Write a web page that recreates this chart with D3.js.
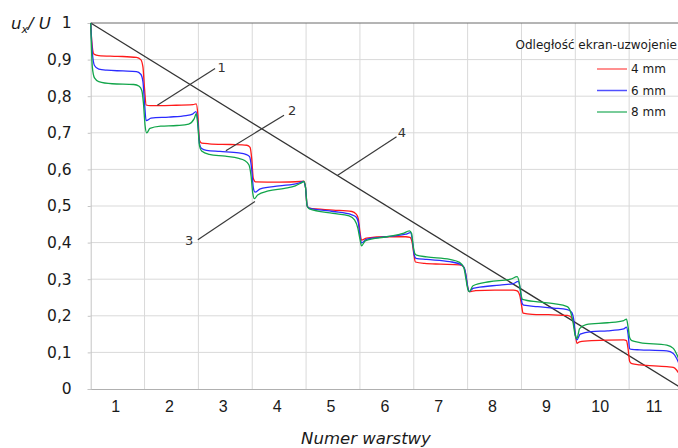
<!DOCTYPE html>
<html>
<head>
<meta charset="utf-8">
<script src="https://cdn.jsdelivr.net/npm/d3@7"></script>
<style>
  html, body { margin: 0; padding: 0; background: #fff; }
  svg { display: block; }
</style>
</head>
<body>
<svg id="chart" width="678" height="448"></svg>
<script>
// Layer numbers on the horizontal axis
const categories = ["1","2","3","4","5","6","7","8","9","10","11"];
// Vertical axis tick values and their labels (decimal comma)
const yTickValues = [0, 0.1, 0.2, 0.3, 0.4, 0.5, 0.6, 0.7, 0.8, 0.9, 1];
const yTickLabels = ["0","0,1","0,2","0,3","0,4","0,5","0,6","0,7","0,8","0,9","1"];

// Legend entries: screen-winding distance
const legendTitle = "Odległość ekran-uzwojenie";
const seriesNames = ["4 mm", "6 mm", "8 mm"];

// Voltage distribution u_x/U along the winding, position in layer units [x, u_x/U]
const series4mm = [
  [0,1.0],[0.02,0.95],[0.06,0.915],[0.15,0.911],[0.5,0.909],[0.85,0.906],[0.93,0.900],[0.97,0.88],
  [1.0,0.82],[1.03,0.776],[1.1,0.774],[1.5,0.775],[1.9,0.777],[1.96,0.779],[1.99,0.75],
  [2.02,0.68],[2.06,0.672],[2.2,0.670],[2.6,0.668],[2.9,0.666],[2.96,0.660],[2.99,0.63],
  [3.02,0.575],[3.06,0.566],[3.5,0.565],[3.9,0.567],[3.96,0.568],[3.99,0.55],
  [4.02,0.50],[4.06,0.494],[4.5,0.489],[4.85,0.485],[4.93,0.478],[4.97,0.465],
  [5.0,0.43],[5.03,0.407],[5.12,0.412],[5.5,0.416],[5.85,0.416],[5.93,0.414],[5.97,0.40],
  [6.0,0.37],[6.03,0.347],[6.2,0.343],[6.5,0.341],[6.85,0.339],[6.93,0.333],[6.97,0.31],
  [7.0,0.28],[7.03,0.266],[7.15,0.269],[7.5,0.270],[7.85,0.270],[7.92,0.268],[7.97,0.255],
  [8.0,0.23],[8.03,0.207],[8.2,0.204],[8.5,0.203],[8.85,0.201],[8.93,0.195],[8.97,0.18],
  [9.0,0.15],[9.03,0.125],[9.08,0.129],[9.3,0.132],[9.9,0.134],[9.95,0.132],[9.98,0.11],
  [10.01,0.075],[10.05,0.069],[10.2,0.066],[10.7,0.061],[10.82,0.059],[10.88,0.052],[10.95,0.035]
];
const series6mm = [
  [0,1.0],[0.03,0.92],[0.07,0.884],[0.15,0.874],[0.3,0.871],[0.6,0.869],[0.85,0.867],[0.93,0.86],[0.97,0.84],
  [1.0,0.78],[1.03,0.733],[1.12,0.740],[1.45,0.743],[1.77,0.747],[1.89,0.751],[1.955,0.758],[1.99,0.73],
  [2.02,0.67],[2.06,0.657],[2.15,0.652],[2.4,0.649],[2.75,0.645],[2.88,0.641],[2.95,0.635],[2.99,0.60],
  [3.02,0.55],[3.05,0.538],[3.15,0.547],[3.5,0.555],[3.85,0.562],[3.95,0.567],[3.99,0.55],
  [4.02,0.50],[4.06,0.494],[4.5,0.485],[4.85,0.476],[4.93,0.470],[4.97,0.455],
  [5.0,0.42],[5.03,0.399],[5.12,0.409],[5.5,0.416],[5.85,0.423],[5.94,0.427],[5.98,0.40],
  [6.01,0.365],[6.04,0.357],[6.24,0.354],[6.67,0.348],[6.89,0.339],[6.94,0.33],[6.97,0.31],
  [7.0,0.28],[7.03,0.266],[7.1,0.275],[7.17,0.277],[7.6,0.284],[7.85,0.288],[7.94,0.294],[7.98,0.27],
  [8.01,0.235],[8.04,0.229],[8.3,0.225],[8.6,0.221],[8.85,0.217],[8.93,0.210],[8.97,0.19],
  [9.0,0.15],[9.03,0.134],[9.09,0.150],[9.3,0.157],[9.6,0.159],[9.9,0.164],[9.95,0.169],[9.98,0.15],
  [10.01,0.11],[10.05,0.108],[10.2,0.107],[10.7,0.104],[10.82,0.097],[10.88,0.084],[10.95,0.06]
];
const series8mm = [
  [0,1.0],[0.03,0.88],[0.07,0.85],[0.15,0.840],[0.4,0.834],[0.8,0.832],[0.9,0.827],[0.95,0.815],[0.98,0.78],
  [1.01,0.72],[1.04,0.700],[1.1,0.712],[1.3,0.718],[1.6,0.720],[1.82,0.724],[1.92,0.738],[1.96,0.752],[1.99,0.72],
  [2.02,0.665],[2.06,0.650],[2.2,0.641],[2.5,0.636],[2.75,0.630],[2.85,0.625],[2.94,0.612],[2.98,0.58],
  [3.01,0.535],[3.04,0.520],[3.1,0.530],[3.3,0.541],[3.6,0.548],[3.8,0.555],[3.92,0.564],[3.96,0.567],[3.99,0.55],
  [4.02,0.50],[4.06,0.492],[4.5,0.480],[4.8,0.473],[4.9,0.462],[4.96,0.44],
  [5.0,0.41],[5.03,0.391],[5.1,0.405],[5.5,0.416],[5.8,0.425],[5.92,0.432],[5.96,0.425],[5.99,0.39],
  [6.02,0.37],[6.05,0.366],[6.24,0.361],[6.67,0.354],[6.85,0.346],[6.93,0.331],[6.97,0.30],
  [7.0,0.275],[7.03,0.266],[7.1,0.282],[7.4,0.293],[7.8,0.300],[7.92,0.307],[7.96,0.29],
  [7.99,0.26],[8.02,0.245],[8.3,0.238],[8.6,0.233],[8.85,0.225],[8.92,0.207],[8.96,0.18],
  [9.0,0.145],[9.03,0.138],[9.08,0.165],[9.2,0.176],[9.6,0.181],[9.9,0.187],[9.95,0.191],[9.98,0.17],
  [10.01,0.14],[10.05,0.132],[10.2,0.127],[10.7,0.120],[10.82,0.111],[10.89,0.093],[10.95,0.07]
];
// Curve 4: linear distribution from the first to the last layer
const linearDistribution = [[0, 1], [11, 0]];

// Numbered callouts: [label, line start x, v, line end x, v, label x, v]
const callouts = [
  ["1", 1.237, 0.775, 2.31, 0.876, 2.43, 0.878],
  ["2", 2.51, 0.651, 3.59, 0.748, 3.74, 0.762],
  ["3", 3.05, 0.512, 1.99, 0.408, 1.83, 0.405],
  ["4", 4.58, 0.583, 5.68, 0.689, 5.78, 0.700]
];

const colors = ["#ff1a1a", "#2b2bff", "#12a54a"];
const legendColors = ["#ff6b6b", "#5050ff", "#4cbb78"];

const svg = d3.select("#chart");
const plotLeft = 90.7, plotRight = 683, plotTop = 23, plotBottom = 389;

const x = d3.scaleLinear().domain([0, 11]).range([plotLeft, plotRight]);
const y = d3.scaleLinear().domain([0, 1]).range([plotBottom, plotTop]);
const band = d3.scaleBand().domain(categories).range([plotLeft, plotRight]);

// Grid
const grid = svg.append("g");
grid.selectAll("line.h").data(yTickValues.filter(v => v > 0 && v < 1)).join("line")
  .attr("x1", plotLeft).attr("x2", plotRight)
  .attr("y1", d => y(d)).attr("y2", d => y(d))
  .attr("stroke", "#d9d9d9").attr("stroke-width", 1);
grid.selectAll("line.v").data(d3.range(1, 11)).join("line")
  .attr("x1", d => x(d)).attr("x2", d => x(d))
  .attr("y1", plotTop).attr("y2", plotBottom)
  .attr("stroke", "#d9d9d9").attr("stroke-width", 1);
// top border at 1
grid.append("line").attr("x1", plotLeft).attr("x2", plotRight)
  .attr("y1", y(1)).attr("y2", y(1)).attr("stroke", "#6a6a6a").attr("stroke-width", 1);

// Axes
const yAxis = d3.axisLeft(y).tickValues(yTickValues)
  .tickFormat((d, i) => yTickLabels[i]).tickSize(3).tickPadding(16);
const gy = svg.append("g").attr("transform", `translate(${plotLeft},0)`).call(yAxis);
gy.select(".domain").attr("stroke", "#c4c4c4");
gy.selectAll(".tick line").attr("stroke", "#c4c4c4");
gy.selectAll(".tick text").attr("font-family", "'DejaVu Sans', Verdana, sans-serif")
  .attr("font-size", 15.5).attr("fill", "#1a1a1a");

const xAxis = d3.axisBottom(band).tickSize(0).tickPadding(12);
const gx = svg.append("g").attr("transform", `translate(0,${plotBottom})`).call(xAxis);
gx.select(".domain").attr("stroke", "#b0b0b0");
gx.selectAll(".tick text").attr("font-family", "'Liberation Sans', Arial, sans-serif")
  .attr("font-size", 16).attr("fill", "#1a1a1a").attr("dx", -2);

// Linear distribution (4)
const line = d3.line().x(d => x(d[0])).y(d => y(d[1]));
svg.append("path").datum(linearDistribution).attr("d", line)
  .attr("fill", "none").attr("stroke", "#333").attr("stroke-width", 1.3);

// Measured distributions
const curve = d3.line().x(d => x(d[0])).y(d => y(d[1])).curve(d3.curveMonotoneX);
[series4mm, series6mm, series8mm].forEach((s, i) => {
  svg.append("path").datum(s).attr("d", curve)
    .attr("fill", "none").attr("stroke", colors[i]).attr("stroke-width", 1.3)
    .attr("stroke-linejoin", "round");
});

// Callouts
const cg = svg.append("g");
callouts.forEach(c => {
  cg.append("line").attr("x1", x(c[1])).attr("y1", y(c[2]))
    .attr("x2", x(c[3])).attr("y2", y(c[4]))
    .attr("stroke", "#3a3a3a").attr("stroke-width", 1.2);
  cg.append("text").attr("x", x(c[5])).attr("y", y(c[6]))
    .attr("dy", "0.35em").attr("text-anchor", "middle")
    .attr("font-family", "'DejaVu Sans', Verdana, sans-serif").attr("font-size", 13)
    .attr("fill", "#333").text(c[0]);
});

// Legend
const lg = svg.append("g");
lg.append("text").attr("x", 677).attr("y", 49).attr("text-anchor", "end")
  .attr("font-family", "'DejaVu Sans', sans-serif").attr("font-size", 12)
  .attr("fill", "#1a1a1a").text(legendTitle);
seriesNames.forEach((n, i) => {
  const yy = 69 + i * 21.5;
  lg.append("line").attr("x1", 597).attr("x2", 627).attr("y1", yy).attr("y2", yy)
    .attr("stroke", legendColors[i]).attr("stroke-width", 1.5);
  lg.append("text").attr("x", 631).attr("y", yy).attr("dy", "0.35em")
    .attr("font-family", "'DejaVu Sans', sans-serif").attr("font-size", 12)
    .attr("fill", "#1a1a1a").text(n);
});

// Axis titles
const yl = svg.append("text").attr("x", 11).attr("y", 29)
  .attr("font-family", "'DejaVu Sans', Verdana, sans-serif").attr("font-size", 16.5)
  .attr("font-style", "italic").attr("fill", "#1a1a1a");
yl.append("tspan").text("u");
yl.append("tspan").attr("font-size", 11).attr("dy", 4).text("x");
yl.append("tspan").attr("dy", -4).text("/ U");

svg.append("text").attr("x", 366).attr("y", 444).attr("text-anchor", "middle")
  .attr("font-family", "'DejaVu Sans', Verdana, sans-serif").attr("font-size", 16.5)
  .attr("font-style", "italic").attr("fill", "#1a1a1a").text("Numer warstwy");
</script>
</body>
</html>
